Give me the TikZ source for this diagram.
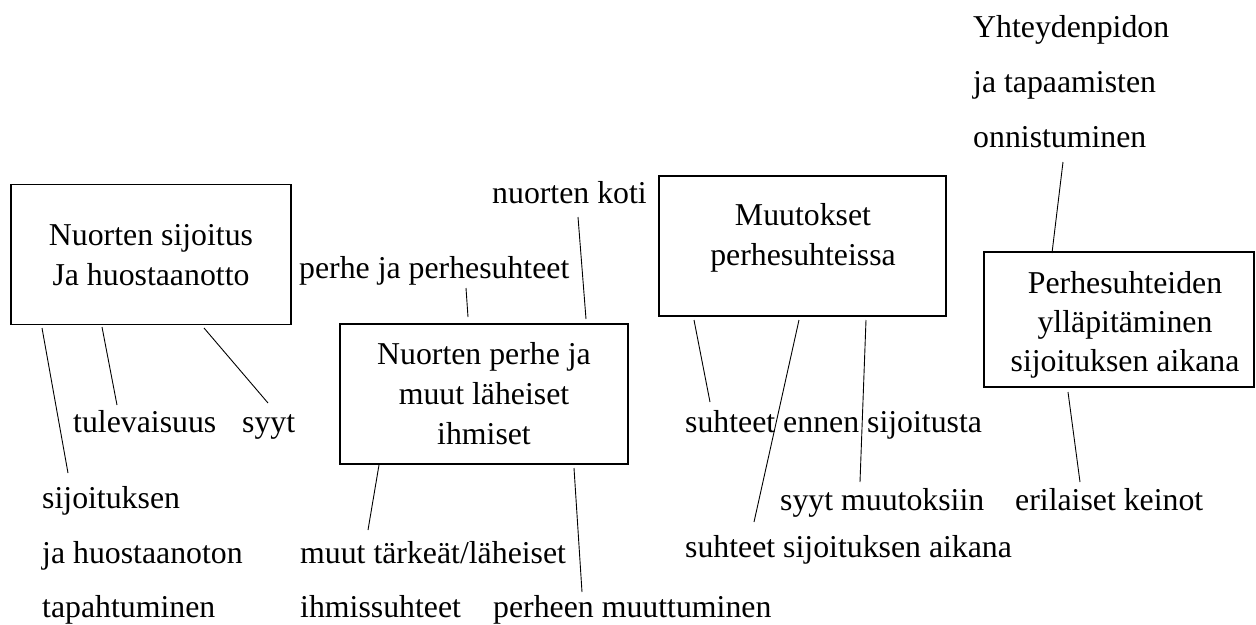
\documentclass[tikz,border=0pt]{standalone}
\usepackage{fontspec}
\setmainfont{Liberation Serif}
\begin{document}
\begin{tikzpicture}[x=1pt,y=-1pt,
  box/.style={draw, line width=1.8pt, inner sep=0pt},
  txt/.style={inner sep=0pt, font=\fontsize{31.8}{39.5}\selectfont},
  lbl/.style={txt, anchor=base west},
  ctr/.style={txt, anchor=base},
  link/.style={line width=0.9pt}]
\useasboundingbox (0,0) rectangle (1256,624);

% boxes
\node[box, minimum width=280pt, minimum height=140pt] (b1) at (151,254.4) {};
\node[box, minimum width=288.6pt, minimum height=140pt] (b2) at (484,394) {};
\node[box, minimum width=287pt, minimum height=140pt] (b3) at (802.5,245.7) {};
\node[box, minimum width=270pt, minimum height=135.3pt] (b4) at (1119.3,319.7) {};

% box texts
\node[ctr] (b1a) at (151,245) {Nuorten sijoitus};
\node[ctr] (b1b) at (151,285) {Ja huostaanotto};
\node[ctr] (b2a) at (484,364) {Nuorten perhe ja};
\node[ctr] (b2b) at (484,404) {muut läheiset};
\node[ctr] (b2c) at (484,444) {ihmiset};
\node[ctr] (b3a) at (803,225.5) {Muutokset};
\node[ctr] (b3b) at (803,265) {perhesuhteissa};
\node[ctr] (b4a) at (1125,293) {Perhesuhteiden};
\node[ctr] (b4b) at (1125,332) {ylläpitäminen};
\node[ctr] (b4c) at (1125,371) {sijoituksen aikana};

% labels
\node[lbl] (l1) at (73,432) {tulevaisuus};
\node[lbl] (l2) at (242,432) {syyt};
\node[lbl] (l3a) at (42,508) {sijoituksen};
\node[lbl] (l3b) at (42,563) {ja huostaanoton};
\node[lbl] (l3c) at (42,617) {tapahtuminen};
\node[lbl] (l4) at (299,278) {perhe ja perhesuhteet};
\node[lbl] (l5) at (492,203) {nuorten koti};
\node[lbl] (l6a) at (300,563) {muut tärkeät/läheiset};
\node[lbl] (l6b) at (300,617) {ihmissuhteet};
\node[lbl] (l7) at (493,617) {perheen muuttuminen};
\node[lbl] (l8) at (685,432) {suhteet ennen sijoitusta};
\node[lbl] (l9) at (780,510) {syyt muutoksiin};
\node[lbl] (l10) at (685,557) {suhteet sijoituksen aikana};
\node[lbl] (l11) at (1015,510) {erilaiset keinot};
\node[lbl] (l12a) at (973,37) {Yhteydenpidon};
\node[lbl] (l12b) at (973,92) {ja tapaamisten};
\node[lbl] (l12c) at (973,147) {onnistuminen};

% connector end points
\coordinate (c1s) at (42,328);   \coordinate (c1e) at (68,473);
\coordinate (c2s) at (102,327);  \coordinate (c2e) at (117,405);
\coordinate (c3s) at (204,328);  \coordinate (c3e) at (268,403);
\coordinate (c4s) at (466,288);  \coordinate (c4e) at (468,317);
\coordinate (c5s) at (578,217);  \coordinate (c5e) at (586,319);
\coordinate (c6s) at (379,465);  \coordinate (c6e) at (368,530);
\coordinate (c7s) at (574,468);  \coordinate (c7e) at (582,592);
\coordinate (c8s) at (694,320);  \coordinate (c8e) at (710,402);
\coordinate (c9s) at (799,320);  \coordinate (c9e) at (754,522);
\coordinate (c10s) at (866,320); \coordinate (c10e) at (860,482);
\coordinate (c11s) at (1063,162); \coordinate (c11e) at (1052,253);
\coordinate (c12s) at (1068,392); \coordinate (c12e) at (1080,482);

\foreach \i in {1,...,12} {\draw[link] (c\i s) -- (c\i e);}
\end{tikzpicture}
\end{document}
